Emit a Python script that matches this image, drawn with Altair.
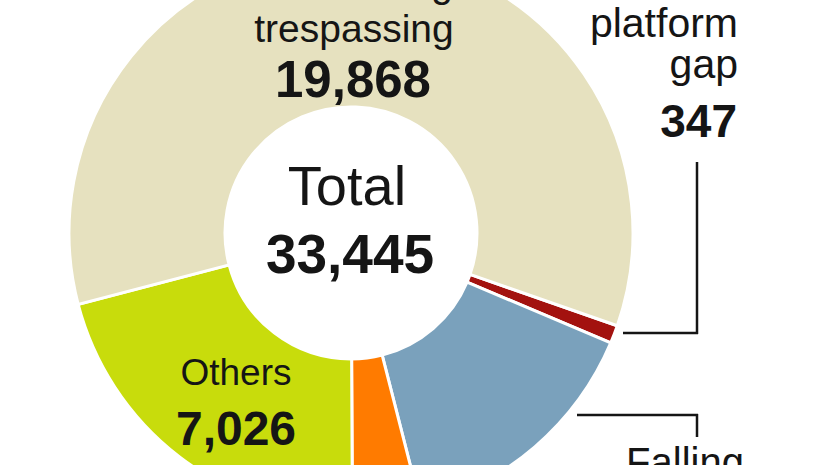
import math
import altair as alt
import pandas as pd

# Railway deaths by cause
causes = ["Platform gap", "Falling from train", "Hit by pole", "Others", "Trespassing"]
deaths = [347, 4900, 1304, 7026, 19868]
colors = ["#A3120F", "#7AA1BC", "#FF7B00", "#C8DC0C", "#E6E1BF"]

total = sum(deaths)
df = pd.DataFrame({"cause": causes, "deaths": deaths, "idx": list(range(len(causes)))})

start = math.radians(109.2)
INK = "#151515"
SANS = "Liberation Sans, Arial, sans-serif"

base = alt.Chart(df)

donut = base.mark_arc(innerRadius=126, outerRadius=282, stroke="white", strokeWidth=3).encode(
    theta=alt.Theta("deaths:Q", stack=True,
                    scale=alt.Scale(domain=[0, total], range=[start, start + 2 * math.pi], nice=False, zero=True)),
    color=alt.Color("cause:N", scale=alt.Scale(domain=causes, range=colors), legend=None),
    order=alt.Order("idx:Q"),
    x=alt.value(351),
    y=alt.value(233),
)


def label(cause, text, x, y, size, weight="normal", align="center"):
    return (
        base.transform_filter(alt.datum.cause == cause)
        .mark_text(font=SANS, fontSize=size, fontWeight=weight, align=align, baseline="alphabetic", color=INK)
        .encode(text=text, x=alt.value(x), y=alt.value(y))
    )


def value_label(cause, x, y, size, align="center"):
    return label(cause, alt.Text("deaths:Q", format=","), x, y, size, weight="bold", align=align)


total_df = pd.DataFrame({"total": [total]})
total_word = alt.Chart(total_df).mark_text(
    font=SANS, fontSize=56, align="center", baseline="alphabetic", color=INK
).encode(text=alt.value("Total"), x=alt.value(347), y=alt.value(205))
total_value = alt.Chart(total_df).mark_text(
    font=SANS, fontSize=55, fontWeight="bold", align="center", baseline="alphabetic", color=INK
).encode(text=alt.Text("total:Q", format=","), x=alt.value(350), y=alt.value(273))

texts = [
    label("Trespassing", alt.value("Crossing"), 453, -3, 39, align="right"),
    label("Trespassing", alt.value("trespassing"), 354, 42, 39),
    value_label("Trespassing", 353, 97, 51),
    label("Platform gap", alt.value("platform"), 738, 37, 41, align="right"),
    label("Platform gap", alt.value("gap"), 738, 78, 41, align="right"),
    value_label("Platform gap", 737, 137, 46, align="right"),
    label("Others", alt.value("Others"), 236, 385, 37),
    value_label("Others", 236, 445, 48),
    label("Falling from train", alt.value("Falling"), 685, 476, 40),
    total_word,
    total_value,
]

line_df = pd.DataFrame({"k": [0]})


def rule(**enc):
    return alt.Chart(line_df).mark_rule(color=INK, strokeWidth=2.5).encode(
        **{k: alt.value(v) for k, v in enc.items()}
    )


leaders = [
    rule(x=697, y=162, y2=334),
    rule(x=623, x2=698, y=333),
    rule(x=577, x2=698, y=415),
    rule(x=697, y=414, y2=437),
]

chart = alt.layer(donut, *leaders, *texts).properties(
    width=826, height=465, padding=0, autosize="none", background="white"
).configure_view(stroke=None)

chart.save("out.html", embed_options={"renderer": "svg", "actions": False})
